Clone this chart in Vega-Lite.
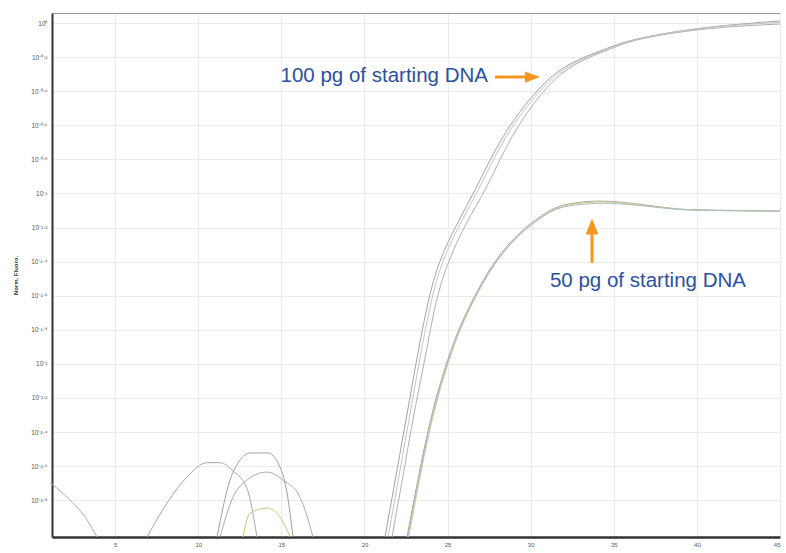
{
  "$schema": "https://vega.github.io/schema/vega-lite/v6.json",
  "width": 728,
  "height": 524,
  "autosize": "none",
  "padding": {"left": 52, "top": 13, "right": 6, "bottom": 16},
  "background": "white",
  "config": {"view": {"stroke": null}, "font": "Liberation Sans"},
  "datasets": {
    "curves": [
      {"curve": "100a", "cycle": 21.236, "log_fluor": -3.016},
      {"curve": "100a", "cycle": 21.958, "log_fluor": -2.623},
      {"curve": "100a", "cycle": 22.56, "log_fluor": -2.294},
      {"curve": "100a", "cycle": 23.161, "log_fluor": -1.966},
      {"curve": "100a", "cycle": 23.823, "log_fluor": -1.643},
      {"curve": "100a", "cycle": 24.545, "log_fluor": -1.397},
      {"curve": "100a", "cycle": 25.568, "log_fluor": -1.18},
      {"curve": "100a", "cycle": 26.832, "log_fluor": -0.945},
      {"curve": "100a", "cycle": 28.336, "log_fluor": -0.668},
      {"curve": "100a", "cycle": 30.382, "log_fluor": -0.399},
      {"curve": "100a", "cycle": 32.367, "log_fluor": -0.241},
      {"curve": "100a", "cycle": 34.353, "log_fluor": -0.158},
      {"curve": "100a", "cycle": 36.399, "log_fluor": -0.094},
      {"curve": "100a", "cycle": 40.37, "log_fluor": -0.029},
      {"curve": "100a", "cycle": 45.0, "log_fluor": 0.012},
      {"curve": "100b", "cycle": 21.657, "log_fluor": -3.016},
      {"curve": "100b", "cycle": 22.379, "log_fluor": -2.623},
      {"curve": "100b", "cycle": 22.981, "log_fluor": -2.294},
      {"curve": "100b", "cycle": 23.643, "log_fluor": -1.966},
      {"curve": "100b", "cycle": 24.305, "log_fluor": -1.643},
      {"curve": "100b", "cycle": 25.087, "log_fluor": -1.397},
      {"curve": "100b", "cycle": 26.11, "log_fluor": -1.18},
      {"curve": "100b", "cycle": 27.433, "log_fluor": -0.945},
      {"curve": "100b", "cycle": 28.877, "log_fluor": -0.668},
      {"curve": "100b", "cycle": 30.803, "log_fluor": -0.399},
      {"curve": "100b", "cycle": 32.728, "log_fluor": -0.241},
      {"curve": "100b", "cycle": 34.654, "log_fluor": -0.158},
      {"curve": "100b", "cycle": 36.639, "log_fluor": -0.094},
      {"curve": "100b", "cycle": 40.55, "log_fluor": -0.035},
      {"curve": "100b", "cycle": 45.0, "log_fluor": -0.006},
      {"curve": "100c", "cycle": 21.42, "log_fluor": -3.016},
      {"curve": "100c", "cycle": 22.14, "log_fluor": -2.623},
      {"curve": "100c", "cycle": 22.74, "log_fluor": -2.294},
      {"curve": "100c", "cycle": 23.34, "log_fluor": -1.966},
      {"curve": "100c", "cycle": 24.0, "log_fluor": -1.643},
      {"curve": "100c", "cycle": 24.73, "log_fluor": -1.397},
      {"curve": "100c", "cycle": 25.75, "log_fluor": -1.18},
      {"curve": "100c", "cycle": 27.02, "log_fluor": -0.945},
      {"curve": "100c", "cycle": 28.52, "log_fluor": -0.668},
      {"curve": "100c", "cycle": 30.56, "log_fluor": -0.399},
      {"curve": "100c", "cycle": 32.55, "log_fluor": -0.241},
      {"curve": "100c", "cycle": 34.5, "log_fluor": -0.158},
      {"curve": "100c", "cycle": 36.52, "log_fluor": -0.094},
      {"curve": "100c", "cycle": 40.45, "log_fluor": -0.03},
      {"curve": "100c", "cycle": 45.0, "log_fluor": 0.004},
      {"curve": "50a", "cycle": 22.56, "log_fluor": -3.016},
      {"curve": "50a", "cycle": 23.342, "log_fluor": -2.617},
      {"curve": "50a", "cycle": 24.124, "log_fluor": -2.271},
      {"curve": "50a", "cycle": 24.967, "log_fluor": -1.989},
      {"curve": "50a", "cycle": 25.929, "log_fluor": -1.743},
      {"curve": "50a", "cycle": 27.373, "log_fluor": -1.473},
      {"curve": "50a", "cycle": 28.757, "log_fluor": -1.291},
      {"curve": "50a", "cycle": 29.961, "log_fluor": -1.18},
      {"curve": "50a", "cycle": 31.344, "log_fluor": -1.091},
      {"curve": "50a", "cycle": 32.668, "log_fluor": -1.056},
      {"curve": "50a", "cycle": 34.353, "log_fluor": -1.045},
      {"curve": "50a", "cycle": 36.399, "log_fluor": -1.062},
      {"curve": "50a", "cycle": 38.384, "log_fluor": -1.086},
      {"curve": "50a", "cycle": 40.37, "log_fluor": -1.097},
      {"curve": "50a", "cycle": 45.0, "log_fluor": -1.103},
      {"curve": "50b", "cycle": 22.66, "log_fluor": -3.016},
      {"curve": "50b", "cycle": 23.44, "log_fluor": -2.617},
      {"curve": "50b", "cycle": 24.22, "log_fluor": -2.271},
      {"curve": "50b", "cycle": 25.06, "log_fluor": -1.989},
      {"curve": "50b", "cycle": 26.02, "log_fluor": -1.743},
      {"curve": "50b", "cycle": 27.46, "log_fluor": -1.473},
      {"curve": "50b", "cycle": 28.84, "log_fluor": -1.293},
      {"curve": "50b", "cycle": 30.04, "log_fluor": -1.183},
      {"curve": "50b", "cycle": 31.42, "log_fluor": -1.095},
      {"curve": "50b", "cycle": 32.75, "log_fluor": -1.06},
      {"curve": "50b", "cycle": 34.43, "log_fluor": -1.05},
      {"curve": "50b", "cycle": 36.47, "log_fluor": -1.066},
      {"curve": "50b", "cycle": 38.45, "log_fluor": -1.089},
      {"curve": "50b", "cycle": 40.44, "log_fluor": -1.099},
      {"curve": "50b", "cycle": 45.0, "log_fluor": -1.105},
      {"curve": "50c", "cycle": 22.61, "log_fluor": -3.016},
      {"curve": "50c", "cycle": 23.39, "log_fluor": -2.617},
      {"curve": "50c", "cycle": 24.17, "log_fluor": -2.271},
      {"curve": "50c", "cycle": 25.01, "log_fluor": -1.989},
      {"curve": "50c", "cycle": 25.97, "log_fluor": -1.743},
      {"curve": "50c", "cycle": 27.42, "log_fluor": -1.475},
      {"curve": "50c", "cycle": 28.8, "log_fluor": -1.296},
      {"curve": "50c", "cycle": 30.0, "log_fluor": -1.188},
      {"curve": "50c", "cycle": 31.38, "log_fluor": -1.1},
      {"curve": "50c", "cycle": 32.71, "log_fluor": -1.068},
      {"curve": "50c", "cycle": 34.39, "log_fluor": -1.058},
      {"curve": "50c", "cycle": 36.43, "log_fluor": -1.07},
      {"curve": "50c", "cycle": 38.42, "log_fluor": -1.09},
      {"curve": "50c", "cycle": 40.41, "log_fluor": -1.099},
      {"curve": "50c", "cycle": 45.0, "log_fluor": -1.104},
      {"curve": "nA", "cycle": 1.2, "log_fluor": -2.705},
      {"curve": "nA", "cycle": 2.28, "log_fluor": -2.799},
      {"curve": "nA", "cycle": 3.19, "log_fluor": -2.899},
      {"curve": "nA", "cycle": 3.91, "log_fluor": -3.016},
      {"curve": "nB", "cycle": 6.92, "log_fluor": -3.016},
      {"curve": "nB", "cycle": 8.12, "log_fluor": -2.817},
      {"curve": "nB", "cycle": 9.32, "log_fluor": -2.664},
      {"curve": "nB", "cycle": 10.53, "log_fluor": -2.58},
      {"curve": "nB", "cycle": 11.31, "log_fluor": -2.58},
      {"curve": "nB", "cycle": 12.09, "log_fluor": -2.628},
      {"curve": "nB", "cycle": 12.93, "log_fluor": -2.73},
      {"curve": "nB", "cycle": 13.53, "log_fluor": -3.016},
      {"curve": "nC", "cycle": 11.13, "log_fluor": -3.016},
      {"curve": "nC", "cycle": 11.91, "log_fluor": -2.682},
      {"curve": "nC", "cycle": 12.51, "log_fluor": -2.565},
      {"curve": "nC", "cycle": 13.11, "log_fluor": -2.523},
      {"curve": "nC", "cycle": 14.2, "log_fluor": -2.523},
      {"curve": "nC", "cycle": 14.92, "log_fluor": -2.606},
      {"curve": "nC", "cycle": 15.34, "log_fluor": -2.758},
      {"curve": "nC", "cycle": 15.7, "log_fluor": -3.016},
      {"curve": "nD", "cycle": 11.31, "log_fluor": -3.016},
      {"curve": "nD", "cycle": 12.09, "log_fluor": -2.782},
      {"curve": "nD", "cycle": 12.93, "log_fluor": -2.682},
      {"curve": "nD", "cycle": 14.14, "log_fluor": -2.635},
      {"curve": "nD", "cycle": 15.1, "log_fluor": -2.682},
      {"curve": "nD", "cycle": 16.12, "log_fluor": -2.782},
      {"curve": "nD", "cycle": 16.9, "log_fluor": -3.016},
      {"curve": "nE", "cycle": 12.69, "log_fluor": -3.016},
      {"curve": "nE", "cycle": 13.11, "log_fluor": -2.876},
      {"curve": "nE", "cycle": 14.14, "log_fluor": -2.846},
      {"curve": "nE", "cycle": 14.92, "log_fluor": -2.899},
      {"curve": "nE", "cycle": 15.52, "log_fluor": -3.016}
    ],
    "labels": [
      {"text": "100 pg of starting DNA", "cycle": 27.43, "log_fluor": -0.349, "side": "right"},
      {"text": "50 pg of starting DNA", "cycle": 31.16, "log_fluor": -1.549, "side": "left"}
    ],
    "shafts": [
      {"cycle": 27.85, "cycle2": 29.9, "log_fluor": -0.317, "log_fluor2": -0.317},
      {"cycle": 33.69, "cycle2": 33.69, "log_fluor": -1.408, "log_fluor2": -1.24}
    ],
    "heads": [
      {"cycle": 30.11, "log_fluor": -0.317, "dir": "right"},
      {"cycle": 33.69, "log_fluor": -1.194, "dir": "up"}
    ]
  },
  "layer": [
    {
      "data": {"name": "curves"},
      "transform": [{"filter": "indexof(datum.curve, 'n') == 0"}],
      "mark": {"type": "line", "interpolate": "monotone", "strokeWidth": 1, "clip": true},
      "encoding": {
        "x": {
          "field": "cycle", "type": "quantitative",
          "scale": {"domain": [1.2, 45], "nice": false, "zero": false},
          "axis": {
            "values": [5, 10, 15, 20, 25, 30, 35, 40, 45],
            "title": null, "ticks": false, "labelFontSize": 6, "labelColor": "#555",
            "labelPadding": 4, "domainColor": "#333", "domainWidth": 2.5,
            "grid": true, "gridColor": "#ececec", "gridWidth": 1
          }
        },
        "y": {
          "field": "log_fluor", "type": "quantitative",
          "scale": {"domain": [-3.016, 0.0587], "nice": false, "zero": false},
          "axis": {
            "values": [0, -0.2, -0.4, -0.6, -0.8, -1, -1.2, -1.4, -1.6, -1.8, -2, -2.2, -2.4, -2.6, -2.8],
            "tickCount": 30,
            "labelExpr": "['10⁰','10⁻⁰·²','10⁻⁰·⁴','10⁻⁰·⁶','10⁻⁰·⁸','10⁻¹','10⁻¹·²','10⁻¹·⁴','10⁻¹·⁶','10⁻¹·⁸','10⁻²','10⁻²·²','10⁻²·⁴','10⁻²·⁶','10⁻²·⁸'][round(-datum.value*5)]",
            "labelOverlap": false, "labelBound": false, "labelFlush": false,
            "title": "Norm. Fluoro.", "titleFontSize": 6, "titleColor": "#333", "titlePadding": 12,
            "ticks": false, "labelFontSize": 6.5, "labelColor": "#555", "labelPadding": 5,
            "domainColor": "#333", "domainWidth": 2,
            "grid": true, "gridColor": "#ececec", "gridWidth": 1
          }
        },
        "detail": {"field": "curve"},
        "color": {
          "field": "curve", "type": "nominal", "legend": null,
          "scale": {
            "domain": ["100a", "100b", "100c", "50a", "50b", "50c", "nA", "nB", "nC", "nD", "nE"],
            "range": ["#a2a2a2", "#b0b0b0", "#c4c4c4", "#a4a4a4", "#cccc88", "#a8c0c0", "#b0b0b0", "#a8a8a8", "#a0a0a0", "#9cb0b0", "#c8c878"]
          }
        }
      }
    },
    {
      "data": {"name": "curves"},
      "transform": [{"filter": "indexof(datum.curve, 'n') != 0"}],
      "mark": {"type": "line", "interpolate": "natural", "strokeWidth": 1, "clip": true},
      "encoding": {
        "x": {"field": "cycle", "type": "quantitative", "axis": null},
        "y": {"field": "log_fluor", "type": "quantitative"},
        "detail": {"field": "curve"},
        "color": {"field": "curve", "type": "nominal", "legend": null}
      }
    },
    {
      "data": {"name": "labels"},
      "transform": [{"filter": "datum.side == 'left'"}],
      "mark": {"type": "text", "align": "left", "baseline": "alphabetic", "fontSize": 20.5, "color": "#2A52A0"},
      "encoding": {
        "x": {"field": "cycle", "type": "quantitative",
          "axis": {"orient": "top", "labels": false, "ticks": false, "grid": false, "title": null, "domainColor": "#999", "domainWidth": 1}},
        "y": {"field": "log_fluor", "type": "quantitative"},
        "text": {"field": "text"}
      }
    },
    {
      "data": {"name": "labels"},
      "transform": [{"filter": "datum.side == 'right'"}],
      "mark": {"type": "text", "align": "right", "baseline": "alphabetic", "fontSize": 20.5, "color": "#2A52A0"},
      "encoding": {
        "x": {"field": "cycle", "type": "quantitative", "axis": null},
        "y": {"field": "log_fluor", "type": "quantitative"},
        "text": {"field": "text"}
      }
    },
    {
      "data": {"name": "shafts"},
      "mark": {"type": "rule", "strokeWidth": 3, "color": "#F5961E"},
      "encoding": {
        "x": {"field": "cycle", "type": "quantitative", "axis": null},
        "x2": {"field": "cycle2"},
        "y": {"field": "log_fluor", "type": "quantitative"},
        "y2": {"field": "log_fluor2"}
      }
    },
    {
      "data": {"name": "heads"},
      "mark": {"type": "point", "filled": true, "opacity": 1, "size": 256, "color": "#F5961E", "strokeWidth": 0},
      "encoding": {
        "x": {"field": "cycle", "type": "quantitative", "axis": null},
        "y": {"field": "log_fluor", "type": "quantitative"},
        "shape": {
          "field": "dir", "type": "nominal", "legend": null,
          "scale": {"domain": ["right", "up"], "range": ["M -0.95 -0.7 L 0.95 0 L -0.95 0.7 Z", "M -0.8 1 L 0 -1 L 0.8 1 Z"]}
        }
      }
    }
  ],
  "resolve": {"axis": {"x": "independent"}}
}
